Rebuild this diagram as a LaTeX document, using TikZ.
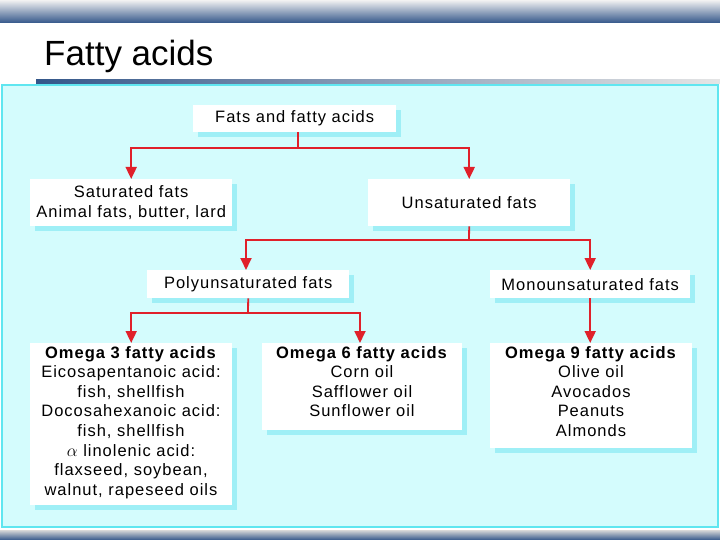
\documentclass[tikz,border=0pt]{standalone}
\usepackage{fontspec}
\setmainfont{Liberation Sans}
\newfontfamily\boxfont[LetterSpace=6]{Liberation Sans}
\usetikzlibrary{arrows.meta}
\definecolor{panel}{HTML}{D4FCFD}
\definecolor{pborder}{HTML}{5FE6F0}
\definecolor{shad}{HTML}{9FEFF6}
\definecolor{dblue}{HTML}{34578A}
\definecolor{arr}{HTML}{E0202A}
\begin{document}
\begin{tikzpicture}[x=1pt,y=-1pt,
  box/.style={fill=white,inner sep=0pt,font=\boxfont\fontsize{16.5}{19.6}\selectfont,align=center},
  link/.style={draw=arr,line width=1.8pt},
  tip/.style={link,-{Triangle[length=12pt,width=11pt]}}]
\useasboundingbox (0,0) rectangle (720,540);
\fill[white] (0,0) rectangle (720,540);
\shade[top color=white!90!gray,bottom color=dblue] (0,0) rectangle (720,23);
\node[anchor=base west,inner sep=0pt,font=\fontsize{35}{35}\selectfont] (title) at (44,66) {Fatty acids};
\shade[left color=dblue,right color=gray!20] (36,80) rectangle (720,84);
\fill[panel,draw=pborder,line width=1.5pt] (2,85) rectangle (718,527);
\shade[top color=gray!30,bottom color=dblue] (0,530) rectangle (720,540);
% boxes
\def\bx#1#2#3#4#5#6{\fill[shad] (#2+5,#3+5) rectangle (#4+5,#5+5);
 \node[box,minimum width=#4-#2,minimum height=#5-#3,anchor=north west] (#1) at (#2,#3) {#6};}
\bx{top}{193}{105}{396}{132}{Fats and fatty acids}
\bx{sat}{30}{179}{232}{226}{Saturated fats\\Animal fats, butter, lard}
\bx{uns}{368}{179}{570}{226}{Unsaturated fats}
\bx{poly}{147}{270}{349}{298}{Polyunsaturated fats}
\bx{mono}{490}{270}{690}{298}{Monounsaturated fats}
\bx{o3}{30}{343}{232}{505}{}
\bx{o6}{262}{343}{462}{430}{}
\bx{o9}{490}{343}{692}{448}{}
\node[box,anchor=north] (t3) at (131,346) {\textbf{Omega 3 fatty acids}\\Eicosapentanoic acid:\\fish, shellfish\\Docosahexanoic acid:\\fish, shellfish\\$\alpha$ linolenic acid:\\flaxseed, soybean,\\walnut, rapeseed oils};
\node[box,anchor=north] (t6) at (362,346) {\textbf{Omega 6 fatty acids}\\Corn oil\\Safflower oil\\Sunflower oil};
\node[box,anchor=north] (t9) at (591,346) {\textbf{Omega 9 fatty acids}\\Olive oil\\Avocados\\Peanuts\\Almonds};
% connectors
\coordinate (j1) at (298,148);
\draw[link] (298,132) -- (j1);
\draw[tip] (j1) -| (sat.north);
\draw[tip] (j1) -| (uns.north);
\coordinate (j2) at (469,240);
\draw[link] (uns.south) -- (j2);
\coordinate (p1) at (246,270);
\draw[tip] (j2) -| (p1);
\draw[tip] (j2) -| (mono.north);
\coordinate (j3) at (248,313);
\draw[link] (poly.south) -- (j3);
\coordinate (p2) at (360,343);
\draw[tip] (j3) -| (o3.north);
\draw[tip] (j3) -| (p2);
\draw[tip] (mono.south) -- (o9.north -| mono.south);
\end{tikzpicture}
\end{document}
